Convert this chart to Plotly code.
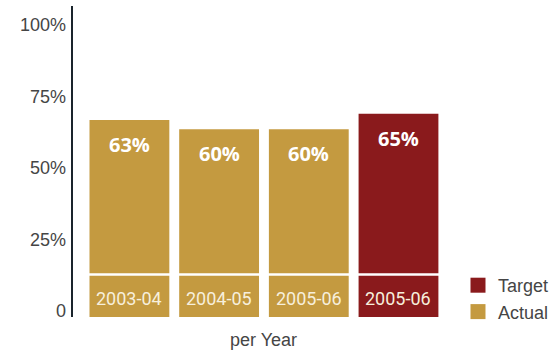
import plotly.graph_objects as go

# Share of target achieved, per year
years = ["2003-04", "2004-05", "2005-06"]
actual = [63, 60, 60]
target_year = "2005-06"
target = [65]

tick_vals = [0, 25, 50, 75, 100]
tick_text = ["0", "25%", "50%", "75%", "100%"]

GOLD = "#C49A40"
RED = "#8A1A1C"
TEXT_GREY = "#454545"
LABEL_CREAM = "#F7EFDC"

x_actual = list(range(len(years)))
x_target = [len(years)]
all_x = x_actual + x_target
all_vals = actual + target
all_years = years + [target_year]

fig = go.Figure()
fig.add_trace(go.Bar(
    x=x_actual, y=actual, name="Actual", width=0.89, showlegend=False,
    marker=dict(color=GOLD, line=dict(width=0)),
    hoverinfo="skip",
))
fig.add_trace(go.Bar(
    x=x_target, y=target, name="Target", width=0.89, showlegend=False,
    marker=dict(color=RED, line=dict(width=0)),
    hoverinfo="skip",
))
# legend entries with larger square swatches
for name, color in [("Actual", GOLD), ("Target", RED)]:
    fig.add_trace(go.Scatter(
        x=[None], y=[None], mode="markers", name=name,
        marker=dict(symbol="square", size=15, color=color, line=dict(width=0)),
    ))
# invisible trace that carries the left-hand percentage scale
fig.add_trace(go.Scatter(x=[None], y=[None], yaxis="y2", showlegend=False))

annotations = []
for xi, v, yr in zip(all_x, all_vals, all_years):
    annotations.append(dict(
        x=xi, y=v, xref="x", yref="y", text=f"{v}%", showarrow=False,
        yanchor="top", yshift=-9,
        font=dict(family="Open Sans, sans-serif", size=20, color="white", weight="bold"),
    ))
    annotations.append(dict(
        x=xi, y=0, xref="x", yref="y", text=yr, showarrow=False,
        yanchor="middle", yshift=19,
        font=dict(family="Roboto, sans-serif", size=18, color=LABEL_CREAM),
    ))
annotations.append(dict(
    x=1.5, y=-0.074, xref="x", yref="paper", text="per Year", showarrow=False,
    yanchor="middle",
    font=dict(family="Liberation Sans, Arial, sans-serif", size=18, color=TEXT_GREY),
))

fig.update_layout(
    width=553, height=352,
    margin=dict(l=73, r=105, t=6, b=35, autoexpand=False),
    paper_bgcolor="white", plot_bgcolor="white",
    barmode="overlay",
    showlegend=True,
    legend=dict(
        traceorder="reversed", xref="container", yref="container",
        x=0.8282, xanchor="left", y=0.0625, yanchor="bottom",
        font=dict(family="Liberation Sans, Arial, sans-serif", size=18, color=TEXT_GREY),
        bgcolor="rgba(0,0,0,0)", itemwidth=30, tracegroupgap=0,
    ),
    xaxis=dict(range=[-0.629, 3.552], visible=False, fixedrange=True),
    yaxis=dict(
        range=[0, 99.4], showline=True, linecolor="#1A242C", linewidth=1.5,
        showticklabels=False, showgrid=False, zeroline=False, ticks="",
    ),
    yaxis2=dict(
        overlaying="y", side="left", range=[-2.1, 106.6],
        tickvals=tick_vals, ticktext=tick_text, ticks="", ticklabelstandoff=6,
        showgrid=False, zeroline=False, showline=False,
        tickfont=dict(family="Liberation Sans, Arial, sans-serif", size=18, color=TEXT_GREY),
    ),
    annotations=annotations,
    shapes=[dict(
        type="line", xref="x", yref="paper", x0=-0.5, x1=3.5,
        y0=0.1367, y1=0.1367, line=dict(color="white", width=2.5),
    )],
)

fig.write_html("out.html")
